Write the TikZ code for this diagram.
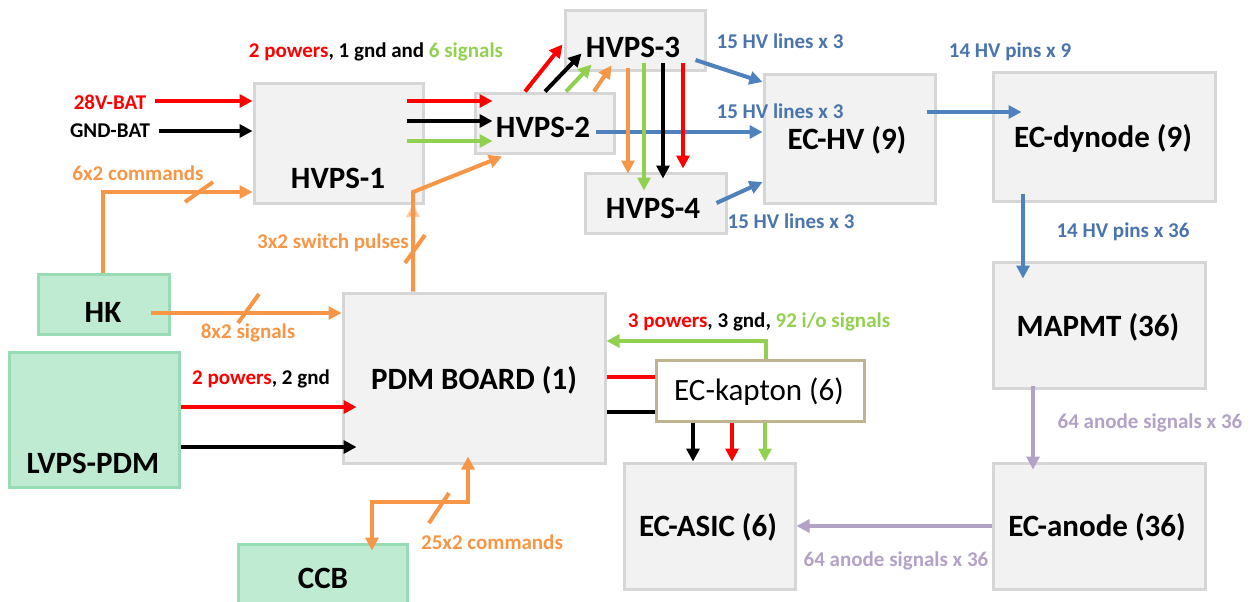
\documentclass[tikz,border=0pt]{standalone}
\usepackage{fontspec}
\setmainfont{Carlito}
\usetikzlibrary{arrows.meta,calc}
\definecolor{boxfill}{HTML}{F2F2F2}
\definecolor{boxline}{HTML}{D6D6D6}
\definecolor{gfill}{HTML}{BFEBD3}
\definecolor{gline}{HTML}{98DBB4}
\definecolor{kline}{HTML}{BFB48F}
\definecolor{orng}{HTML}{F79646}
\definecolor{blu}{HTML}{4F81BD}
\definecolor{blutxt}{HTML}{4A74AE}
\definecolor{purp}{HTML}{B3A2C7}
\definecolor{grn}{HTML}{92D050}
\definecolor{rd}{HTML}{FF0000}
\begin{document}
\begin{tikzpicture}[x=1pt,y=-1pt,
  box/.style 2 args={draw=boxline, fill=boxfill, line width=3pt, inner sep=0pt, minimum width=#1, minimum height=#2},
  gbox/.style 2 args={draw=gline, fill=gfill, line width=3pt, inner sep=0pt, minimum width=#1, minimum height=#2},
  kbox/.style 2 args={draw=kline, fill=white, line width=3pt, inner sep=0pt, minimum width=#1, minimum height=#2},
  bt/.style={font=\bfseries\fontsize{31}{31}\selectfont, inner sep=0pt},
  rt/.style={font=\fontsize{31}{31}\selectfont, inner sep=0pt},
  lbl/.style={font=\bfseries\fontsize{21}{21}\selectfont, inner sep=0pt},
  arr/.style={line width=4pt, -{Triangle[length=13pt,width=13pt]}},
  dbl/.style={line width=4pt, {Triangle[length=13pt,width=13pt]}-{Triangle[length=13pt,width=13pt]}},
  slash/.style={line width=4pt, orng}
]
\useasboundingbox (0,0) rectangle (1258,602);
% boxes
\node[box={169pt}{120pt}] (hv1) at (338.5,143) {};
\node[box={139pt}{60pt}] (hv2) at (544.5,123) {};
\node[box={140pt}{60pt}] (hv3) at (635,41) {};
\node[box={141pt}{60pt}] (hv4) at (655.5,203) {};
\node[box={171pt}{128pt}] (echv) at (849.5,139) {};
\node[box={222pt}{128pt}] (dyn) at (1104,137) {};
\node[box={212pt}{126pt}] (mapmt) at (1099,325) {};
\node[box={212pt}{126pt}] (anode) at (1099,526) {};
\node[box={171pt}{126pt}] (asic) at (709.5,526) {};
\node[box={262pt}{170pt}] (pdm) at (474,378) {};
\node[gbox={131pt}{60pt}] (hk) at (103.5,304) {};
\node[gbox={170pt}{135pt}] (lvps) at (94,419.5) {};
\node[gbox={169pt}{66pt}] (ccb) at (322.5,577) {};
% box texts
\node[bt] (hv1t) at (338,178) {HVPS-1};
\node[bt] (hv2t) at (543,127) {HVPS-2};
\node[bt] (hv3t) at (633,47) {HVPS-3};
\node[bt] (hv4t) at (653,208) {HVPS-4};
\node[bt] (echvt) at (847,140) {EC-HV (9)};
\node[bt] (dynt) at (1103,138) {EC-dynode (9)};
\node[bt] (mapmtt) at (1098,327) {MAPMT (36)};
\node[bt] (anodet) at (1097,527) {EC-anode (36)};
\node[bt] (asict) at (708,527) {EC-ASIC (6)};
\node[bt] (pdmt) at (474,380) {PDM BOARD (1)};
\node[bt] (hkt) at (103,312) {HK};
\node[bt] (lvpst) at (93,463) {LVPS-PDM};
\node[bt] (ccbt) at (323,578) {CCB};
% labels
\node[lbl,rd] (bat) at (110,102) {28V-BAT};
\node[lbl] (gnd) at (110,131) {GND-BAT};
\node[lbl] (l1) at (376,52) {\textcolor{rd}{2 powers}, 1 gnd and \textcolor{grn}{6 signals}};
\node[lbl,orng] (l2) at (138,173) {6x2 commands};
\node[lbl,orng] (l3) at (333,243) {3x2 switch pulses};
\node[lbl,orng] (l4) at (248,333) {8x2 signals};
\node[lbl] (l5) at (261,379) {\textcolor{rd}{2 powers}, 2 gnd};
\node[lbl,orng] (l6) at (492,542) {25x2 commands};
\node[lbl,blutxt] (l7) at (780,41) {15 HV lines x 3};
\node[lbl,blutxt] (l8) at (780,111) {15 HV lines x 3};
\node[lbl,blutxt] (l9) at (791,221) {15 HV lines x 3};
\node[lbl,blutxt] (l10) at (1010,52) {14 HV pins x 9};
\node[lbl,blutxt] (l11) at (1123,232) {14 HV pins x 36};
\node[lbl,purp] (l12) at (1150,423) {64 anode signals x 36};
\node[lbl,purp] (l13) at (896,561) {64 anode signals x 36};
\node[lbl] (l14) at (759,322) {\textcolor{rd}{3 powers}, 3 gnd, \textcolor{grn}{92 i/o signals}};
% inputs to HVPS-1
\draw[arr,rd] ($(bat.east)+(9,-1)$) -- (hv1.west |- 0,101);
\draw[arr,black] ($(gnd.east)+(9,0)$) -- (hv1.west |- 0,131);
% HK connections
\draw[arr,orng] (hk.north -| 103,0) -- (103,192) -- (hv1.west |- 0,192);
\draw[slash] (185,202) -- (213,182);
\draw[arr,orng] ($(hk.east |- 0,313)+(-20,0)$) -- (pdm.west |- 0,313);
\draw[slash] (238,323) -- (259,294);
% LVPS to PDM
\draw[arr,rd] (lvps.east |- 0,407) -- ($(pdm.west |- 0,407)+(15,0)$);
\draw[arr,black] (lvps.east |- 0,447) -- ($(pdm.west |- 0,447)+(15,0)$);
% PDM to HVPS-2 switch pulses
\draw[arr,orng,opacity=0.45] (413,222) -- (413,204);
\draw[arr,orng] (pdm.north -| 413,0) -- (413,192) -- ($(hv2.south -| 502,0)+(0,2)$);
\draw[slash] (405,263) -- (425,235);
% HVPS-1 to HVPS-2
\draw[arr,rd] ($(hv1.east |- 0,101)+(-18,0)$) -- ($(hv2.west |- 0,101)+(19,0)$);
\draw[arr,black] ($(hv1.east |- 0,121)+(-18,0)$) -- ($(hv2.west |- 0,121)+(19,0)$);
\draw[arr,grn] ($(hv1.east |- 0,141)+(-18,0)$) -- ($(hv2.west |- 0,141)+(19,0)$);
% blue HV lines
\draw[arr,blu] ($(hv2.east |- 0,132)+(-20,0)$) -- (echv.west |- 0,132);
\draw[arr,blu] ($(hv3.east)+(-11,19)$) -- (echv.west |- 0,82);
\draw[arr,blu] ($(hv4.east)+(-11,0)$) -- (echv.west |- 0,182);
% HVPS-2 to HVPS-3
\draw[arr,rd] (hv2.north -| 525,0) -- ($(hv3.south west)+(-1,-28)$);
\draw[arr,black] (hv2.north -| 545,0) -- ($(hv3.south west)+(18,-19)$);
\draw[arr,grn] (hv2.north -| 566,0) -- ($(hv3.south west)+(28,-8)$);
\draw[arr,orng] (hv2.north -| 594,0) -- ($(hv3.south west)+(48,-7)$);
% HVPS-3 to HVPS-4
\draw[arr,orng] ($(hv3.south -| 628,0)+(0,-4)$) -- ($(hv4.north -| 628,0)+(0,2)$);
\draw[arr,grn] ($(hv3.south -| 644,0)+(0,-9)$) -- ($(hv4.north -| 644,0)+(0,19)$);
\draw[arr,black] ($(hv3.south -| 663,0)+(0,-9)$) -- ($(hv4.north -| 663,0)+(0,7)$);
\draw[arr,rd] ($(hv3.south -| 683,0)+(0,-9)$) -- ($(hv4.north -| 683,0)+(0,-3)$);
% EC chain
\draw[arr,blu] ($(echv.east |- 0,112)+(-10,0)$) -- ($(dyn.west |- 0,112)+(30,0)$);
\draw[arr,blu] ($(dyn.south -| 1023,0)+(0,-9)$) -- ($(mapmt.north -| 1023,0)+(0,18)$);
\draw[arr,purp] ($(mapmt.south -| 1033,0)+(0,-4)$) -- ($(anode.north -| 1033,0)+(0,8)$);
\draw[arr,purp] (anode.west |- 0,526) -- (asic.east |- 0,526);
% kapton
\node[kbox={208pt}{61pt}] (kap) at (760,390.5) {};
\node[rt] (kapt) at (759,392) {EC-kapton (6)};
\draw[arr,grn] (kap.north -| 766,0) -- (766,341) -- (pdm.east |- 0,341);
\draw[line width=4pt,rd] (pdm.east |- 0,377) -- (kap.west |- 0,377);
\draw[line width=4pt,black] (pdm.east |- 0,412) -- (kap.west |- 0,412);
\draw[arr,black] (kap.south -| 693,0) -- (asic.north -| 693,0);
\draw[arr,rd] (kap.south -| 732,0) -- (asic.north -| 732,0);
\draw[arr,grn] (kap.south -| 765,0) -- (asic.north -| 765,0);
% CCB
\draw[dbl,orng] ($(ccb.north -| 372,0)+(0,8)$) -- (372,502) -- (468,502) -- ($(pdm.south -| 468,0)+(0,-8)$);
\draw[slash] (429,523) -- (449,493);
\end{tikzpicture}
\end{document}
